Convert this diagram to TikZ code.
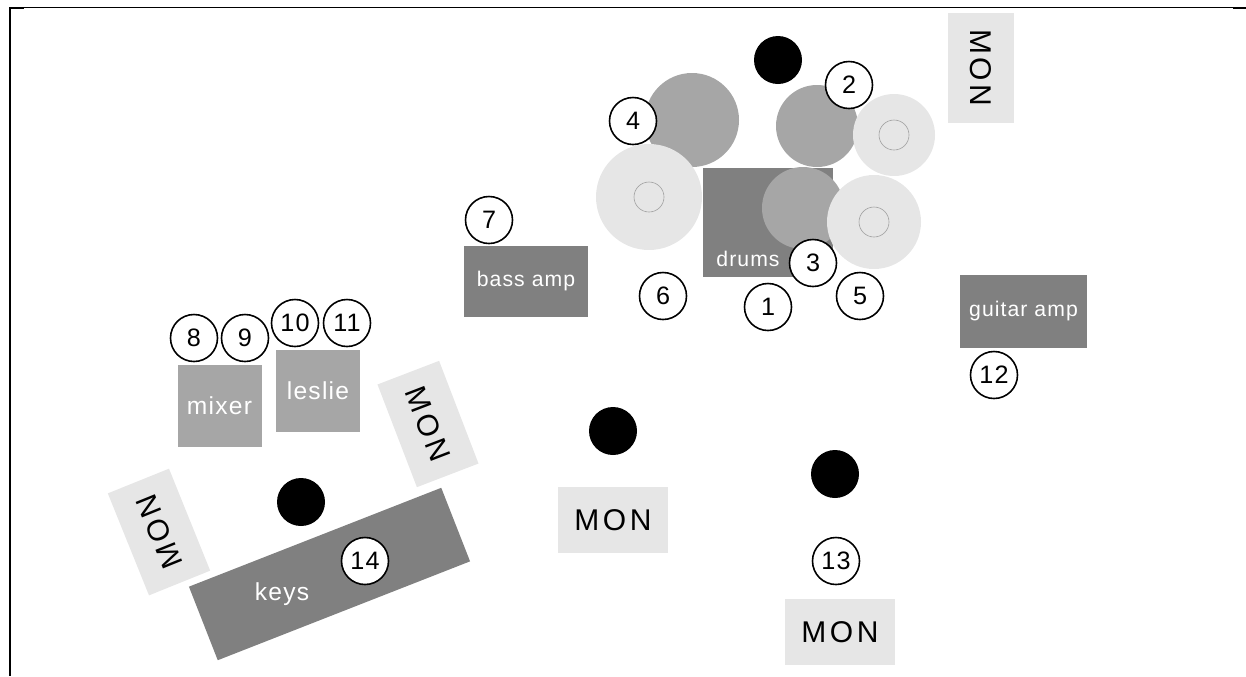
\documentclass[tikz,border=0pt]{standalone}
\usepackage{fontspec}
\usepackage{xcolor}
\usetikzlibrary{positioning}
\setmainfont{Liberation Sans}
\newfontfamily\widefont[LetterSpace=5]{Liberation Sans}
\newfontfamily\monfont[LetterSpace=12]{Liberation Sans}
\definecolor{lightgray}{RGB}{230,230,230}
\definecolor{midgray}{RGB}{166,166,166}
\definecolor{darkgray}{RGB}{128,128,128}
\definecolor{ringgray}{RGB}{160,160,160}

\begin{document}
\begin{tikzpicture}[x=0.5pt, y=-0.5pt,
  amp/.style={fill=darkgray, minimum width=#1, inner sep=0pt},
  box/.style={fill=midgray, inner sep=0pt, minimum width=42pt, minimum height=41pt},
  mon/.style={fill=lightgray, minimum width=55pt, minimum height=33pt, inner sep=0pt,
              font=\fontsize{15}{18}\monfont},
  drum/.style={circle, fill=midgray, inner sep=0pt, minimum size=#1},
  cymbal/.style={circle, fill=lightgray, inner sep=0pt, minimum size=#1},
  hub/.style={circle, draw=ringgray, line width=0.3pt, inner sep=0pt, minimum size=15pt},
  player/.style={circle, fill=black, inner sep=0pt, minimum size=24pt},
  num/.style={circle, draw=black, fill=white, line width=0.8pt, inner sep=0pt,
              minimum size=23.5pt, font=\fontsize{12.6}{15}\widefont},
  small/.style={text=white, font=\fontsize{10.6}{13}\widefont},
  big/.style={text=white, font=\fontsize{12.3}{15}\widefont}]
\useasboundingbox (0,0) rectangle (1246,676);

%% frame
\fill[black] (9,7) rectangle (11,676);
\fill[black] (9,7) rectangle (1246,8.2);
\fill[black] (9,7) rectangle (24,9);
\fill[black] (1233,7) rectangle (1246,9);

%% drums
\node[amp=65pt, minimum height=54.5pt] (drums) at (768,222.5) {};
\node[drum=41pt] (snare) at (803,208) {};
\node[drum=47pt] (floortom) at (692,120) {};
\node[drum=41pt] (racktom) at (817,126) {};
\node[cymbal=53pt] (crash) at (649,197) {};
\node[cymbal=41pt] (hihat) at (894,135) {};
\node[cymbal=47pt] (ride) at (874,222) {};
\node[hub] (crashhub) at (649,197) {};
\node[hub] (hihathub) at (894,135) {};
\node[hub] (ridehub) at (874,222) {};
\node[small] (drumstext) at (748,259) {drums};

%% amps
\node[amp=62pt, minimum height=35.5pt, small] (bassamp) at (526,281.5) {bass amp};
\node[amp=63.5pt, minimum height=36.5pt, small] (guitaramp) at (1023.5,311.5) {guitar amp};

%% mixer and leslie
\node[box, big] (mixer) at (219.5,406) {mixer};
\node[box, big] (leslie) at (318,390.5) {leslie};

%% keys
\node[fill=darkgray, rotate=21.4, minimum width=135.5pt, minimum height=39.5pt, inner sep=0pt]
  (keys) at (329.5,574) {};
\node[big] (keystext) at (282,594) {keys};

%% monitors
\node[mon, rotate=-90] (montop) at (981,68) {MON};
\node[mon, rotate=-69] (monright) at (428,424) {MON};
\node[mon, rotate=112] (monleft) at (159,532) {MON};
\node[mon] (moncentre) at (613,520) {MON};
\node[mon] (monfront) at (840,632) {MON};

%% players
\node[player] (playerdrums) at (778,60) {};
\node[player] (playerkeys) at (301,502) {};
\node[player] (playerbass) at (613,431) {};
\node[player] (playerfront) at (835,474) {};

%% numbers
\node[num] (n1) at (768,307) {1};
\node[num] (n2) at (849,85) {2};
\node[num] (n3) at (813,263) {3};
\node[num] (n4) at (633,121) {4};
\node[num] (n5) at (860,296) {5};
\node[num] (n6) at (663,296) {6};
\node[num] (n7) at (489,220) {7};
\node[num] (n8) at (194,338) {8};
\node[num] (n9) at (245,338) {9};
\node[num] (n10) at (295,323) {10};
\node[num] (n11) at (347,323) {11};
\node[num] (n12) at (994,375) {12};
\node[num] (n13) at (836,561) {13};
\node[num] (n14) at (365,561) {14};
\end{tikzpicture}
\end{document}
